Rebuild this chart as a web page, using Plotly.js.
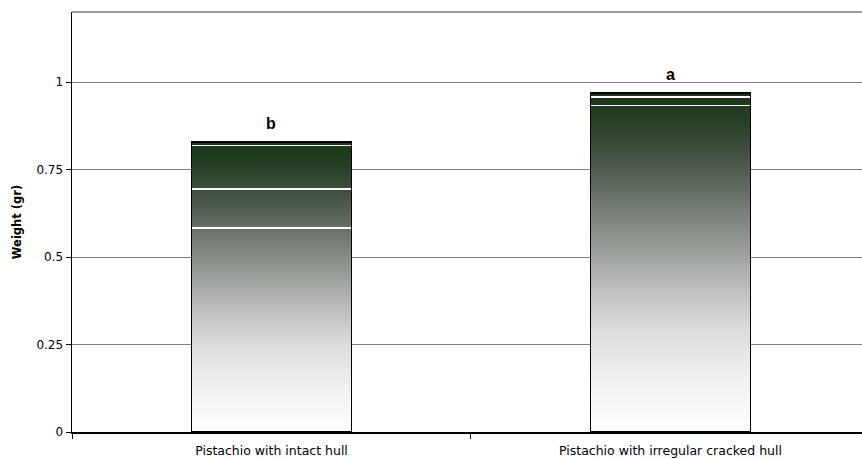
<!DOCTYPE html>
<html>
<head>
<meta charset="utf-8">
<script src="https://cdn.plot.ly/plotly-3.0.1.min.js"></script>
<style>
  html, body { margin: 0; padding: 0; background: #fff; }
  #chart { width: 862px; height: 459px; }
</style>
</head>
<body>
<div id="chart"></div>
<script>
// ---- data ----
const categories = ["Pistachio with intact hull", "Pistachio with irregular cracked hull"];
const segment1 = [0.583, 0.9325];
const segment2 = [0.111, 0];
const segment3 = [0.125, 0.0245];
const segment4 = [0.010, 0.011];
const letters = ["b", "a"];
const yTickVals = [0, 0.25, 0.5, 0.75, 1];
const yTickText = ["0", "0.25", "0.5", "0.75", "1"];

const segments = [segment1, segment2, segment3, segment4];
const totals = categories.map((c, i) => segments.reduce((s, arr) => s + arr[i], 0));

const font = "DejaVu Sans, Arial, sans-serif";

const traces = segments.map((arr, k) => ({
  type: "bar",
  x: categories,
  y: arr,
  name: "Segment " + (k + 1),
  width: 0.401,
  marker: { color: "#cccccc", line: { color: "#ffffff", width: 1.5 } },
  hoverinfo: "skip",
  xaxis: "x",
  yaxis: "y"
}));

// outline trace on an overlaid axis so it is not stacked
traces.push({
  type: "bar",
  x: categories,
  y: totals,
  name: "Total",
  width: 0.401,
  marker: { color: "rgba(0,0,0,0)", line: { color: "#000000", width: 1.6 } },
  hoverinfo: "skip",
  xaxis: "x2",
  yaxis: "y"
});

const xRange = [-0.5, 1.48];

const layout = {
  width: 862,
  height: 459,
  margin: { l: 72, r: 0, t: 12, b: 27 },
  paper_bgcolor: "#ffffff",
  plot_bgcolor: "#ffffff",
  barmode: "stack",
  showlegend: false,
  font: { family: font, size: 12, color: "#000" },
  xaxis: {
    type: "category",
    range: xRange,
    showgrid: false,
    showline: true,
    linecolor: "#000",
    linewidth: 1.5,
    ticks: "outside",
    tickson: "boundaries",
    ticklen: 5,
    tickcolor: "#000",
    tickwidth: 1,
    ticklabelstandoff: 6,
    tickfont: { family: font, size: 12.5, color: "#000" },
    zeroline: false,
    fixedrange: true
  },
  xaxis2: {
    type: "category",
    overlaying: "x",
    range: xRange,
    visible: false,
    fixedrange: true
  },
  yaxis: {
    range: [0, 1.2],
    tickvals: yTickVals,
    ticktext: yTickText,
    showgrid: true,
    gridcolor: "#808080",
    gridwidth: 1,
    showline: true,
    linecolor: "#000",
    linewidth: 1.5,
    ticks: "outside",
    ticklen: 5,
    tickcolor: "#000",
    tickfont: { family: font, size: 12, color: "#000" },
    zeroline: false,
    title: { text: "<b>Weight (gr)</b>", font: { family: font, size: 11.5, color: "#000" }, standoff: 12 },
    fixedrange: true
  },
  shapes: [{
    type: "line", xref: "paper", yref: "paper",
    x0: 0, x1: 1, y0: 1, y1: 1,
    line: { color: "#808080", width: 1.5 }
  }],
  annotations: categories.map((c, i) => ({
    x: c, y: totals[i], xref: "x", yref: "y",
    text: "<b>" + letters[i] + "</b>",
    showarrow: false, yanchor: "bottom", yshift: 8,
    font: { family: "Liberation Sans, Arial, sans-serif", size: 16, color: "#000" }
  }))
};

Plotly.newPlot("chart", traces, layout, { displayModeBar: false, staticPlot: true }).then(gd => {
  const ns = "http://www.w3.org/2000/svg";
  const ya = gd._fullLayout.yaxis;
  const svg = gd.querySelector("svg.main-svg");
  let defs = svg.querySelector("defs");
  if (!defs) { defs = document.createElementNS(ns, "defs"); svg.insertBefore(defs, svg.firstChild); }
  const stops = [
    [0.00, "#183816"], [0.08, "#263f25"], [0.18, "#425042"], [0.30, "#687168"],
    [0.40, "#878d87"], [0.50, "#a5a9a5"], [0.60, "#c3c5c3"], [0.70, "#dbdcdb"],
    [0.80, "#ebebeb"], [0.90, "#f5f5f5"], [0.96, "#fbfbfb"], [1.00, "#ffffff"]
  ];
  categories.forEach((c, i) => {
    const g = document.createElementNS(ns, "linearGradient");
    g.setAttribute("id", "barGrad" + i);
    g.setAttribute("gradientUnits", "userSpaceOnUse");
    g.setAttribute("x1", 0); g.setAttribute("x2", 0);
    g.setAttribute("y1", ya.l2p(totals[i]));
    g.setAttribute("y2", ya.l2p(0));
    stops.forEach(([o, col]) => {
      const s = document.createElementNS(ns, "stop");
      s.setAttribute("offset", o);
      s.setAttribute("stop-color", col);
      g.appendChild(s);
    });
    defs.appendChild(g);
  });
  gd.querySelectorAll(".subplot.xy .barlayer .trace").forEach(tr => {
    tr.querySelectorAll(".point").forEach((pt, i) => {
      const p = pt.querySelector("path");
      if (p) p.style.fill = "url(#barGrad" + (i % categories.length) + ")";
    });
  });
});
</script>
</body>
</html>
